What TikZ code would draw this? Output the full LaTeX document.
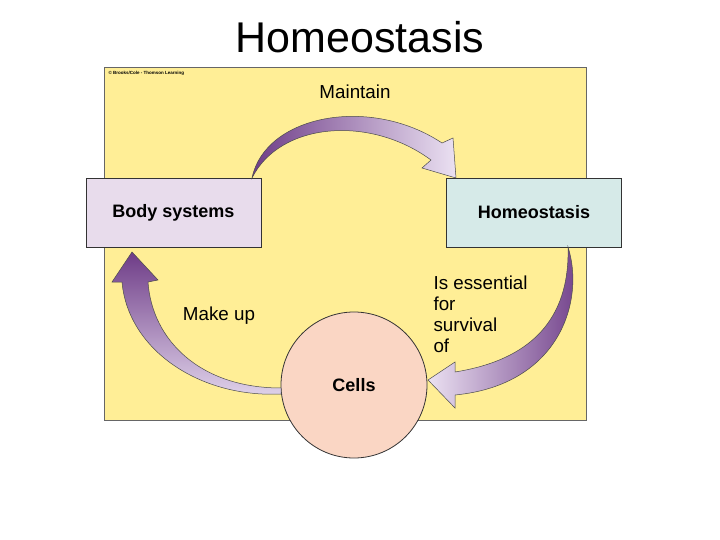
\documentclass[tikz,border=0pt]{standalone}
\usepackage{fontspec}
\setmainfont{Liberation Sans}
\begin{document}
\begin{tikzpicture}[x=1pt,y=-1pt,
  box/.style={draw=black!80,line width=0.8pt,minimum width=175pt,minimum height=69pt,font=\fontsize{18}{20}\selectfont\bfseries},
  lab/.style={font=\fontsize{18.8}{21}\selectfont,align=left},
  arr/.style={draw=black!70,line width=0.5pt}]
\useasboundingbox (0,0) rectangle (720,540);
\node (title) at (360,37) {\fontsize{43}{46}\selectfont Homeostasis};
\fill[fill={rgb,255:red,255;green,238;blue,150}, draw=black!60] (104,67) rectangle (586,420);
\node[anchor=north west,font=\fontsize{4.5}{5}\selectfont\bfseries] (copy) at (105,68) {© Brooks/Cole - Thomson Learning};
\node[box,fill={rgb,255:red,232;green,220;blue,236}] (body) at (173.5,212.5) {Body systems};
\node[box,fill={rgb,255:red,214;green,234;blue,232}] (homeo) at (534,212.5) {Homeostasis};
\node[circle,draw=black!80,line width=0.8pt,minimum size=146pt,fill={rgb,255:red,250;green,214;blue,196},font=\fontsize{18}{20}\selectfont\bfseries] (cells) at (354,385) {Cells};
% Maintain arrow
\shade[arr,left color={rgb,255:red,110;green,60;blue,135},right color={rgb,255:red,235;green,225;blue,242}]
 (252,178) .. controls (265,115) and (370,95) .. (442,143) -- (453,138) -- (456,178) -- (422,168) -- (431,160) .. controls (370,115) and (280,122) .. (252,178) -- cycle;
% Is essential arrow
\shade[arr,left color={rgb,255:red,235;green,225;blue,242},right color={rgb,255:red,110;green,60;blue,135}]
 (568,247) .. controls (585,300) and (560,385) .. (455,395) -- (455,408) -- (428,380) -- (455,362) -- (455,372) .. controls (530,360) and (570,320) .. (568,247) -- cycle;
% Make up arrow
\shade[arr,top color={rgb,255:red,110;green,60;blue,135},bottom color={rgb,255:red,225;green,212;blue,235}]
 (281,394) .. controls (200,398) and (128,350) .. (122,282) -- (112,282) -- (132,252) -- (158,280) -- (148,282) .. controls (152,340) and (200,388) .. (281,388) -- cycle;
\node[lab] (lmaint) at (355,92) {Maintain};
\node[lab] (lmake) at (219,316) {Make up};
\node[lab,anchor=north west] (less) at (430,272) {Is essential\\for\\survival\\of};
\end{tikzpicture}
\end{document}
